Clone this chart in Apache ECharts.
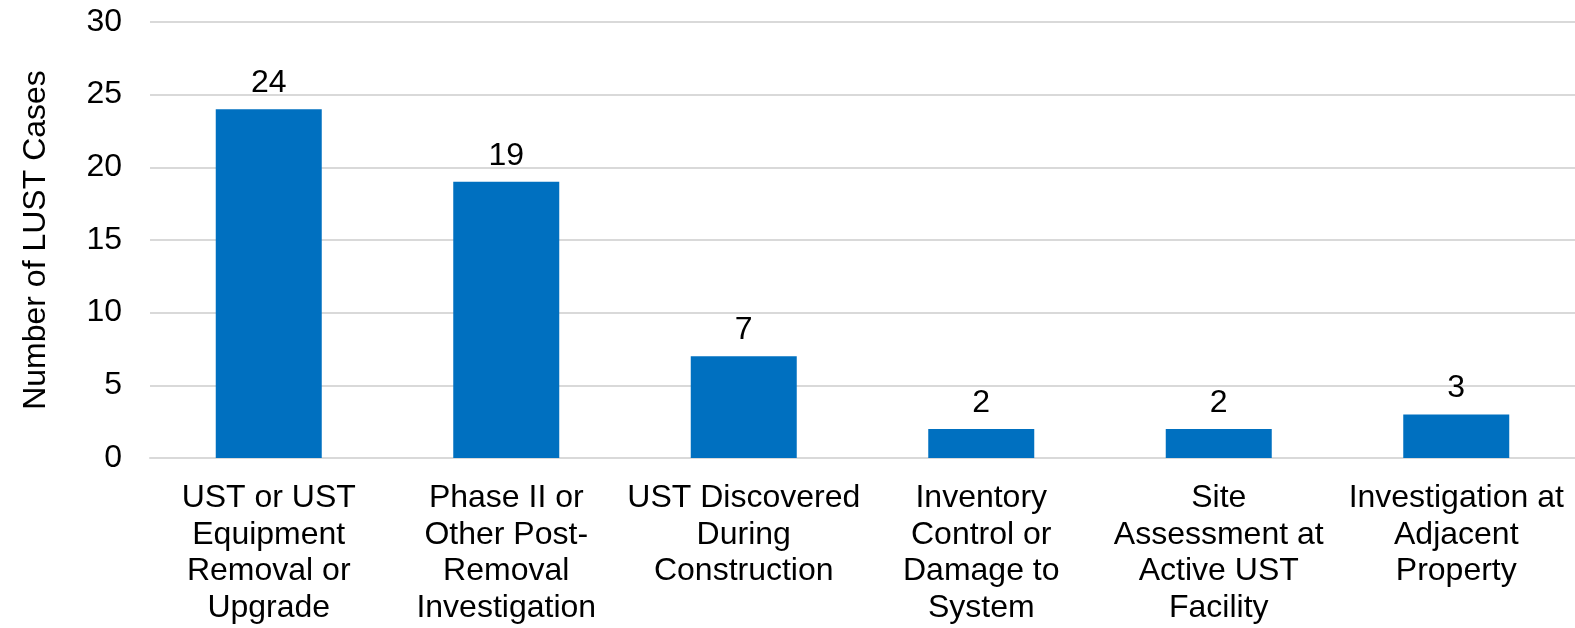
<!DOCTYPE html>
<html>
<head>
<meta charset="utf-8">
<title>LUST Cases</title>
<script src="https://cdn.jsdelivr.net/npm/echarts@6/dist/echarts.min.js"></script>
<style>
  html, body { margin: 0; padding: 0; background: #fff; }
  #chart { width: 1575px; height: 628px; }
</style>
</head>
<body>
<div id="chart"></div>
<script>
// categories on the x axis
const categories = [
  'UST or UST\nEquipment\nRemoval or\nUpgrade',
  'Phase II or\nOther Post-\nRemoval\nInvestigation',
  'UST Discovered\nDuring\nConstruction',
  'Inventory\nControl or\nDamage to\nSystem',
  'Site\nAssessment at\nActive UST\nFacility',
  'Investigation at\nAdjacent\nProperty'
];
// number of cases per category
const caseCounts = [24, 19, 7, 2, 2, 3];
// y axis ticks
const yTicks = [0, 5, 10, 15, 20, 25, 30];

const font = 'Arial, "Liberation Sans", sans-serif';

const chart = echarts.init(document.getElementById('chart'));
chart.setOption({
  animation: false,
  grid: { left: 150, right: 0, top: 22, bottom: 170 },
  xAxis: {
    type: 'category',
    data: categories,
    axisLine: { lineStyle: { color: '#d9d9d9', width: 2 } },
    axisTick: { show: false },
    axisLabel: {
      interval: 0,
      margin: 22,
      color: '#000',
      fontFamily: font,
      fontSize: 32,
      lineHeight: 36.5
    }
  },
  yAxis: {
    type: 'value',
    min: yTicks[0],
    max: yTicks[yTicks.length - 1],
    interval: 5,
    name: 'Number of LUST Cases',
    nameLocation: 'middle',
    nameRotate: 90,
    nameGap: 98,
    nameTextStyle: { color: '#000', fontFamily: font, fontSize: 32 },
    axisLine: { show: false },
    axisTick: { show: false },
    axisLabel: { margin: 28, color: '#000', fontFamily: font, fontSize: 32 },
    splitLine: { lineStyle: { color: '#d9d9d9', width: 2 } }
  },
  series: [
    {
      type: 'bar',
      data: caseCounts,
      barWidth: 106,
      itemStyle: { color: '#0070c0' },
      label: {
        show: true,
        position: 'top',
        distance: 10,
        color: '#000',
        fontFamily: font,
        fontSize: 32
      }
    }
  ]
});
</script>
</body>
</html>
